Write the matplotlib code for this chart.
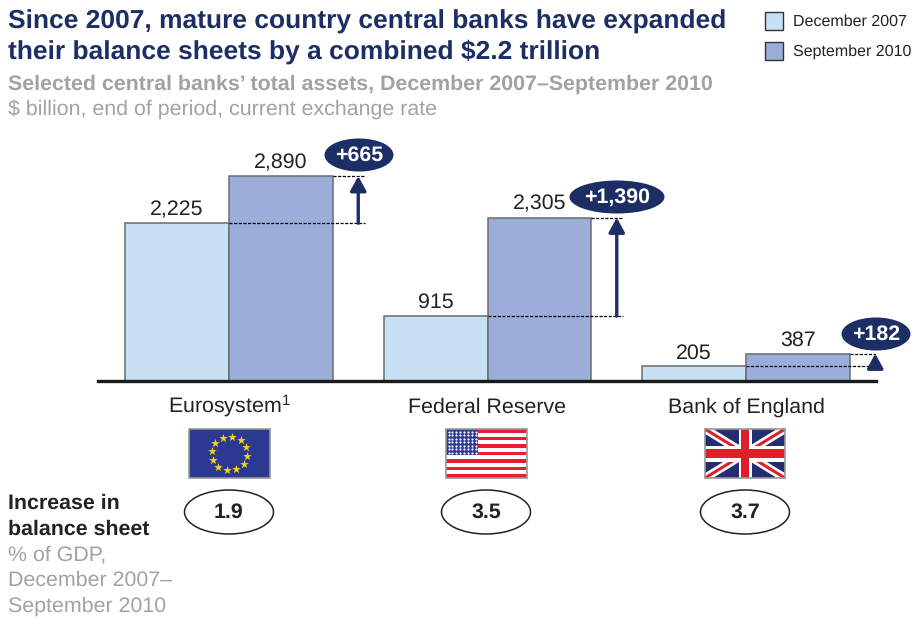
import numpy as np
import matplotlib
matplotlib.use('Agg')
import matplotlib.pyplot as plt
from matplotlib.patches import Ellipse, Rectangle

plt.rcParams['font.family'] = ['Liberation Sans', 'DejaVu Sans']
plt.rcParams['mathtext.default'] = 'regular'
plt.rcParams['text.hinting'] = 'no_hinting'

# data
bancos = ['Eurosystem$^{1}$', 'Federal Reserve', 'Bank of England']
dez_2007 = [2225, 915, 205]
set_2010 = [2890, 2305, 387]
aumento = ['+665', '+1,390', '+182']
pct_pib = ['1.9', '3.5', '3.7']

AZUL = '#1d2e64'
CINZA = '#a0a2a5'
CLARO = '#c8e0f4'
MEDIO = '#9badd8'
BORDA = '#6a6d70'
TEXTO = '#222222'
W, H = 913, 619

fig = plt.figure(figsize=(W / 100, H / 100), dpi=100)

# overlay in pixel coordinates for the text, flags and ovals
fundo = fig.add_axes([0, 0, 1, 1])
fundo.set_xlim(0, W)
fundo.set_ylim(H, 0)
fundo.axis('off')

# bars: group spacing 258.5 px, 0.0709 px per $ billion
esq, dir_, base, topo = 98, 876, 381, 140
ax = fig.add_axes([esq / W, 1 - base / H, (dir_ - esq) / W, (base - topo) / H])
ax.patch.set_alpha(0)
ax.set_xlim((esq - 229) / 258.5, (dir_ - 229) / 258.5)
ax.set_ylim(0, (base - topo) / 0.0709)
x = np.arange(len(bancos))
larg = 0.402
ax.bar(x - larg / 2, dez_2007, larg, color=CLARO, edgecolor=BORDA, linewidth=1.1, zorder=2)
ax.bar(x + larg / 2, set_2010, larg, color=MEDIO, edgecolor=BORDA, linewidth=1.1, zorder=2)

for s in ['top', 'left', 'right']:
    ax.spines[s].set_visible(False)
ax.spines['bottom'].set_linewidth(2.4)
ax.spines['bottom'].set_color('#1a1a1a')
ax.spines['bottom'].set_zorder(5)
ax.set_yticks([])
ax.set_xticks(x)
ax.set_xticklabels(bancos, fontsize=15.4, color=TEXTO, va='baseline')
ax.tick_params(axis='x', length=0, pad=23)

for i in x:
    ax.annotate(f'{dez_2007[i]:,}', (i - larg / 2, dez_2007[i]), xytext=(0, 2.5), textcoords='offset points',
                ha='center', va='bottom', fontsize=15.4, color=TEXTO)
    ax.annotate(f'{set_2010[i]:,}', (i + larg / 2, set_2010[i]), xytext=(0, 2.5), textcoords='offset points',
                ha='center', va='bottom', fontsize=15.4, color=TEXTO)
    # dashed guides and the arrow of the increase
    ax.plot([i, i + 0.525], [dez_2007[i]] * 2, color='black', lw=0.9, ls=(0, (2.5, 1.2)), zorder=3)
    ax.plot([i + larg, i + 0.525], [set_2010[i]] * 2, color='black', lw=0.9, ls=(0, (2.5, 1.2)), zorder=3)
    ax.annotate('', xy=(i + 0.5, set_2010[i]), xytext=(i + 0.5, dez_2007[i]),
                arrowprops=dict(arrowstyle='-|>,head_width=0.3,head_length=0.55', color=AZUL, lw=2.4,
                                shrinkA=0, shrinkB=0, mutation_scale=16), zorder=4)

# titles
fundo.text(8, 22, 'Since 2007, mature country central banks have expanded', fontsize=19, fontweight='bold',
           color=AZUL, va='center')
fundo.text(8, 52, r'their balance sheets by a combined \$2.2 trillion', fontsize=19,
           fontweight='bold', color=AZUL, va='center')
fundo.text(8, 84, 'Selected central banks’ total assets, December 2007–September 2010', fontsize=15.4,
           fontweight='bold', color=CINZA, va='center')
fundo.text(8, 109, r'\$ billion, end of period, current exchange rate', fontsize=15.4, color=CINZA, va='center')

# legend
for y0, cor, txt in [(12, CLARO, 'December 2007'), (42, MEDIO, 'September 2010')]:
    fundo.add_patch(Rectangle((765, y0), 18, 18, facecolor=cor, edgecolor='#333333', lw=1))
    fundo.text(793, y0 + 9.5, txt, fontsize=11.5, color=TEXTO, va='center')

# ovals with the increase
ovais = [(359, 155, 69), (617, 197, 95), (876, 334, 69)]
for (cx, cy, w), txt in zip(ovais, aumento):
    fundo.add_patch(Ellipse((cx, cy), w, 33, facecolor=AZUL, edgecolor='none', zorder=6))
    fundo.text(cx, cy + 0.5, txt, fontsize=15.4, fontweight='bold', color='white', ha='center', va='center', zorder=7)

# ovals with % of GDP
for cx, txt in zip([229, 486, 745], pct_pib):
    fundo.add_patch(Ellipse((cx, 512), 89, 44, facecolor='white', edgecolor=TEXTO, lw=1.1))
    fundo.text(cx, 512, txt, fontsize=15.4, fontweight='bold', color=TEXTO, ha='center', va='center')

# side note
fundo.text(8, 503, 'Increase in', fontsize=15.4, fontweight='bold', color=TEXTO, va='center')
fundo.text(8, 529, 'balance sheet', fontsize=15.4, fontweight='bold', color=TEXTO, va='center')
fundo.text(8, 555, '% of GDP,', fontsize=15.4, color=CINZA, va='center')
fundo.text(8, 580, 'December 2007–', fontsize=15.4, color=CINZA, va='center')
fundo.text(8, 606, 'September 2010', fontsize=15.4, color=CINZA, va='center')


def bandeira_ue(x0, y0, w, h):
    fundo.add_patch(Rectangle((x0, y0), w, h, facecolor='#2b3990', edgecolor='#9a9a9a', lw=1.2))
    ang = np.deg2rad(np.arange(0, 360, 30) + 8)
    fundo.scatter(x0 + w / 2 + 18 * np.cos(ang), y0 + h / 2 + 17 * np.sin(ang), marker='*', s=42,
                  color='#f7d417', linewidths=0, zorder=3)


def bandeira_eua(x0, y0, w, h):
    fundo.add_patch(Rectangle((x0, y0), w, h, facecolor='white', edgecolor='none'))
    faixa = h / 13
    for k in range(0, 13, 2):
        fundo.add_patch(Rectangle((x0, y0 + k * faixa), w, faixa, facecolor='#ed1c2e', edgecolor='none'))
    fundo.add_patch(Rectangle((x0, y0), w * 0.4, faixa * 7, facecolor='#2b3990', edgecolor='none'))
    xs, ys = np.meshgrid(np.linspace(x0 + 2.5, x0 + w * 0.4 - 2.5, 8), np.linspace(y0 + 2.5, y0 + faixa * 7 - 2.5, 7))
    fundo.scatter(xs.ravel(), ys.ravel(), s=2.5, color='white', linewidths=0, zorder=3)
    fundo.add_patch(Rectangle((x0, y0), w, h, facecolor='none', edgecolor='#9a9a9a', lw=1.2, zorder=4))


def bandeira_uk(x0, y0, w, h):
    fundo_uk = Rectangle((x0, y0), w, h, facecolor='#232d70', edgecolor='none')
    fundo.add_patch(fundo_uk)
    x1, y1 = x0 + w, y0 + h
    cantos = [((x0, y0), (x1, y1)), ((x0, y1), (x1, y0))]
    for (a, b) in cantos:
        fundo.plot([a[0], b[0]], [a[1], b[1]], color='white', lw=6, solid_capstyle='butt', clip_path=fundo_uk)
    for (a, b) in cantos:
        fundo.plot([a[0], b[0]], [a[1], b[1]], color='#dd2029', lw=2.2, solid_capstyle='butt', clip_path=fundo_uk)
    cx, cy = x0 + w / 2, y0 + h / 2
    fundo.add_patch(Rectangle((cx - 6.5, y0), 13, h, facecolor='white', edgecolor='none', zorder=3))
    fundo.add_patch(Rectangle((x0, cy - 8), w, 16, facecolor='white', edgecolor='none', zorder=3))
    fundo.add_patch(Rectangle((cx - 4.2, y0), 8.4, h, facecolor='#dd2029', edgecolor='none', zorder=3))
    fundo.add_patch(Rectangle((x0, cy - 4.7), w, 9.4, facecolor='#dd2029', edgecolor='none', zorder=3))
    fundo.add_patch(Rectangle((x0, y0), w, h, facecolor='none', edgecolor='#9a9a9a', lw=1.2, zorder=4))


bandeira_ue(189, 429, 81, 49)
bandeira_eua(446, 429, 81, 49)
bandeira_uk(705, 429, 80, 49)

fig.savefig('out.png', dpi=100)
